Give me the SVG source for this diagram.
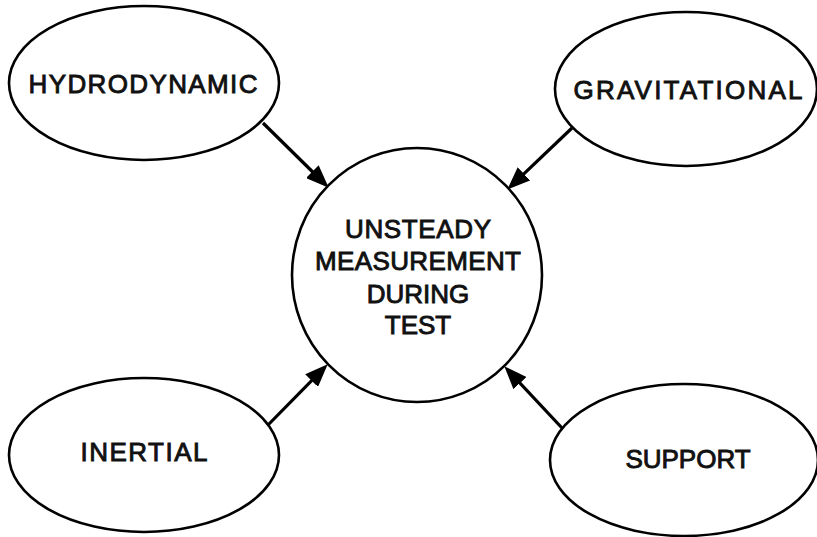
<svg xmlns="http://www.w3.org/2000/svg" width="817" height="537" viewBox="0 0 817 537">
<style>
.node ellipse{fill:#fff;stroke:#000;stroke-width:2.6}
.node text{font-family:"Liberation Sans",Arial,sans-serif;font-weight:normal;font-size:26px;fill:#111;stroke:#111;stroke-width:0.9;text-anchor:middle}
.conn line{stroke:#000;stroke-width:3.2;fill:none}
</style>
<defs>
<marker id="ah" markerUnits="userSpaceOnUse" markerWidth="24" markerHeight="18" refX="12" refY="9" orient="auto">
<path d="M0,0 L23,9 L0,18 z" fill="#000"/>
</marker>
</defs>
<rect width="817" height="537" fill="#fff"/>
<g class="conn">
<line x1="263" y1="123" x2="320.9" y2="180.0" marker-end="url(#ah)"/>
<line x1="572" y1="128" x2="515.2" y2="182.1" marker-end="url(#ah)"/>
<line x1="268" y1="425" x2="320.0" y2="372.1" marker-end="url(#ah)"/>
<line x1="562" y1="428" x2="511.8" y2="374.3" marker-end="url(#ah)"/>
</g>
<g id="hydrodynamic" class="node">
<ellipse cx="144" cy="83" rx="135" ry="77"/>
<text x="143" y="93" textLength="229" lengthAdjust="spacing">HYDRODYNAMIC</text>
</g>
<g id="gravitational" class="node">
<ellipse cx="686" cy="89" rx="131" ry="77"/>
<text x="688" y="99" textLength="229" lengthAdjust="spacing">GRAVITATIONAL</text>
</g>
<g id="unsteady" class="node">
<ellipse cx="417" cy="275" rx="125" ry="127"/>
<text x="418" y="238" textLength="146" lengthAdjust="spacing">UNSTEADY</text>
<text x="418" y="270" textLength="206" lengthAdjust="spacing">MEASUREMENT</text>
<text x="418" y="303">DURING</text>
<text x="418" y="334">TEST</text>
</g>
<g id="inertial" class="node">
<ellipse cx="144" cy="455" rx="135" ry="77"/>
<text x="144" y="461" textLength="127" lengthAdjust="spacing">INERTIAL</text>
</g>
<g id="support" class="node">
<ellipse cx="684" cy="460" rx="134" ry="76"/>
<text x="688" y="468" font-size="25">SUPPORT</text>
</g>
</svg>
